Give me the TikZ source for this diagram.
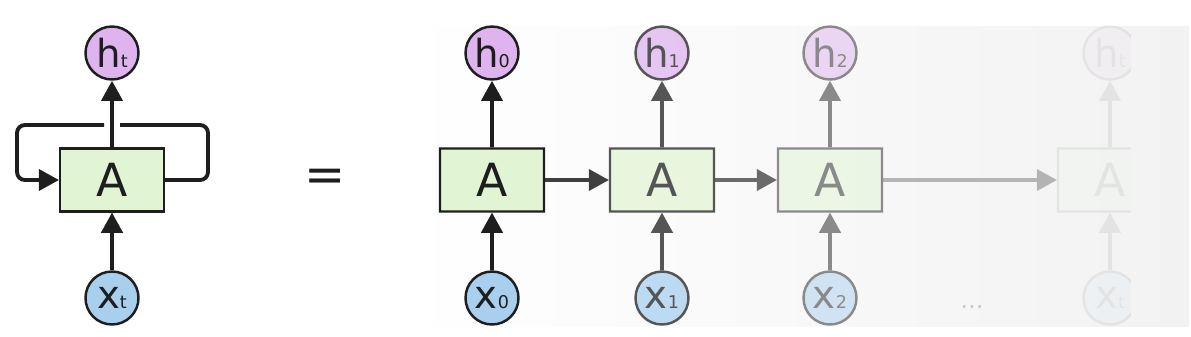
\documentclass[tikz,border=0pt]{standalone}
\usepackage{fontspec}
\setmainfont{DejaVu Sans}
\usetikzlibrary{arrows.meta,positioning}
\definecolor{cellgreen}{HTML}{E1F5D4}
\definecolor{hpurple}{HTML}{DEB3EE}
\definecolor{xblue}{HTML}{A8CFEE}
\definecolor{ink}{HTML}{1E1E1E}
\definecolor{fadegray}{HTML}{F2F2F2}
\newcommand{\lowidx}[1]{{\fontsize{10}{10}\selectfont #1}}

\begin{document}
\begin{tikzpicture}[x=0.02cm,y=-0.02cm,
  cell/.style={draw=ink,line width=1.2pt,fill=cellgreen,text=ink,
    minimum width=2.08cm,minimum height=1.26cm,inner sep=0pt,
    font=\fontsize{26}{26}\selectfont},
  hstate/.style={circle,draw=ink,line width=1.4pt,fill=hpurple,text=ink,
    minimum size=1.06cm,inner sep=0pt,font=\fontsize{22}{22}\selectfont},
  xin/.style={hstate,fill=xblue},
  flow/.style={draw=ink,line width=2.2pt,-{Triangle[length=11.5pt,width=12pt]}},
  loopline/.style={draw=ink,line width=2.2pt,rounded corners=4.5pt},
]
\useasboundingbox (0,0) rectangle (1191,336);
% fond degrade
\shade[left color=white,right color=fadegray] (403,26) rectangle (1189,326);

% cellule repliee
\node[cell] (A) at (112,180) {A};
\node[hstate] (ht) at (112,53) {h\lowidx{t}};
\node[xin] (xt) at (112,298) {x\lowidx{t}};
\coordinate (gapR) at (120,125);
\coordinate (gapL) at (104,125);
\draw[flow] (xt) -- (A);
\draw[flow] (A) -- (ht);
\draw[loopline] (A.east) -- (208,180) |- (gapR);
\draw[flow,rounded corners=4.5pt] (gapL) -| (17,180) -- (A.west);

\node[font=\fontsize{28}{28}\selectfont,text=ink] (eq) at (325,180) {=};

% cellules deroulees
\foreach \i/\cx/\op in {0/492/1, 1/662/0.75, 2/830/0.5}{
  \begin{scope}[transparency group,opacity=\op]
  \node[cell] (A\i) at (\cx,180) {A};
  \node[hstate] (h\i) at (\cx,53) {h\lowidx{\i}};
  \node[xin] (x\i) at (\cx,298) {x\lowidx{\i}};
  \draw[flow] (x\i) -- (A\i);
  \draw[flow] (A\i) -- (h\i);
  \end{scope}
}
\begin{scope}[transparency group,opacity=0.85]
\draw[flow] (A0) -- (A1);
\end{scope}
\begin{scope}[transparency group,opacity=0.65]
\draw[flow] (A1) -- (A2);
\end{scope}

\node[text=gray!40,font=\fontsize{14}{14}\selectfont] (dots) at (972,307) {...};

% derniere cellule, coupee
\begin{scope}
\clip (400,0) rectangle (1130,336);
\begin{scope}[transparency group,opacity=0.07]
\node[cell] (A3) at (1110,180) {A};
\node[hstate] (h3) at (1110,53) {h\lowidx{t}};
\node[xin] (x3) at (1110,298) {x\lowidx{t}};
\draw[flow] (x3) -- (A3);
\draw[flow] (A3) -- (h3);
\end{scope}
\end{scope}
\begin{scope}[transparency group,opacity=0.3]
\draw[flow] (A2) -- (A3);
\end{scope}
\end{tikzpicture}
\end{document}
